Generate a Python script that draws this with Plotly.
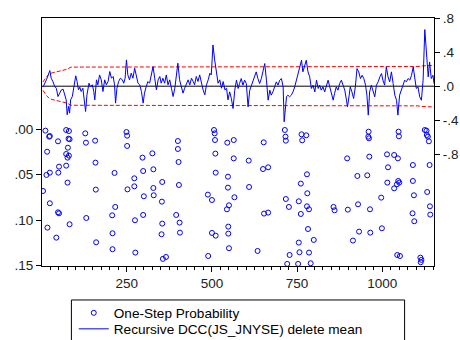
import plotly.graph_objects as go

# ---- Recursive residual series (obs index, value) ----
line_obs = [
    4, 14, 24, 28, 33, 38, 43, 48, 53, 58,
    63, 68, 72, 75, 79, 82, 85, 90, 94, 100,
    104, 108, 112, 116, 121, 126, 129, 133, 139, 143,
    149, 153, 156, 161, 165, 170, 175, 180, 185, 190,
    195, 200, 205, 210, 214, 217, 221, 226, 231, 237,
    241, 245, 249, 253, 258, 263, 268, 273, 278, 283,
    288, 293, 298, 302, 307, 312, 317, 322, 327, 332,
    337, 342, 347, 351, 356, 361, 366, 371, 376, 381,
    386, 391, 396, 400, 405, 410, 415, 420, 425, 430,
    435, 440, 445, 449, 454, 459, 464, 469, 474, 479,
    484, 489, 494, 498, 503, 508, 513, 518, 523, 528,
    533, 538, 543, 547,
    552, 557, 562, 567, 572, 577, 581, 586, 591, 596,
    601, 606, 611, 616, 621, 626, 630, 635, 640, 645,
    650, 655, 660, 665, 670, 674, 679, 684, 689, 694,
    699, 704, 709, 712, 716, 719, 723, 728, 733, 738,
    743, 748, 753, 758, 763, 767, 772, 777, 782, 787,
    792, 797, 802, 807, 812, 816, 821, 826, 831, 836,
    841, 846, 851, 856, 860, 865, 870, 875, 880, 885,
    890, 895, 898, 903, 906, 911, 916, 921, 926, 931,
    936, 941, 946, 951, 955, 959, 963, 968, 973, 978,
    983, 988, 993, 998, 1002, 1007, 1012, 1017, 1022, 1027,
    1032, 1037, 1042, 1046, 1051, 1056, 1061, 1066, 1071, 1076,
    1081, 1086, 1091, 1095, 1100, 1105, 1110, 1115, 1120, 1125,
    1130, 1135, 1139, 1144, 1149, 1152,
]
line_vals = [
    -0.01, 0.075, 0.184, 0.094, 0.055, 0.0, -0.024, -0.122, -0.082, -0.043,
    -0.035, -0.122, -0.161, -0.337, -0.239, -0.318, -0.161, -0.122, -0.024, 0.122,
    0.055, -0.043, -0.012, -0.063, -0.024, -0.161, -0.298, -0.102, 0.035, -0.004,
    0.016, -0.063, -0.161, 0.075, 0.016, 0.133, 0.075, -0.063, 0.075, 0.016,
    0.055, 0.173, 0.094, 0.114, 0.016, -0.2, -0.024, 0.055, 0.094, 0.075,
    0.035, 0.094, 0.31, 0.133, 0.075, 0.153, 0.094, 0.212, 0.114, 0.035,
    0.016, -0.063, -0.2, -0.082, -0.004, 0.055, 0.035, 0.133, 0.231, 0.094,
    -0.043, 0.075, 0.114, 0.035, 0.094, 0.035, 0.133, 0.016, 0.075, -0.024,
    -0.122, -0.024, 0.114, 0.271, 0.075, -0.024, -0.082, -0.024, 0.016, 0.075,
    0.016, 0.094, 0.055, 0.016, 0.114, 0.055, 0.133, 0.035, -0.043, -0.102,
    0.016, 0.075, 0.153, 0.133, 0.486, 0.31, 0.173, 0.035, 0.075, -0.024,
    0.055, -0.043, -0.024, -0.161,
    -0.067, -0.145, -0.263, -0.047, 0.071, -0.027, 0.031, 0.09, 0.012, 0.071,
    0.031, -0.243, -0.047, 0.012, 0.051, 0.129, 0.169, 0.09, 0.031, 0.09,
    0.188, 0.267, 0.071, -0.165, -0.047, -0.106, -0.067, -0.008, 0.051, 0.012,
    0.071, 0.09, -0.008, -0.42, -0.204, -0.125, -0.106, -0.125, -0.106, -0.067,
    -0.008, 0.071, 0.149, 0.227, 0.306, 0.169, 0.227, 0.306, 0.169, 0.11,
    -0.027, 0.012, -0.067, 0.071, -0.027, 0.012, -0.047, -0.008, -0.067, 0.012,
    0.071, -0.008, -0.086, -0.165, -0.086, -0.008, -0.047, 0.031, 0.071, 0.012,
    -0.047, -0.165, -0.243, -0.106, -0.008, -0.067, -0.145, -0.008, 0.208, 0.169,
    0.09, 0.129, 0.09, 0.012, -0.106, -0.341, -0.067, 0.012, -0.067, -0.125,
    0.012, 0.051, 0.11, 0.149, 0.071, 0.012, 0.227, 0.11, 0.051, 0.169,
    0.031, -0.106, -0.165, -0.341, -0.106, -0.047, 0.012, 0.071, 0.051, 0.09,
    0.071, 0.129, 0.227, 0.11, -0.027, -0.008, -0.125, -0.165, 0.071, 0.667,
    0.424, 0.11, 0.286, 0.09, 0.129, 0.031,
]

# ---- +/- 2 S.E. band ----
band_obs = [4, 14, 24, 48, 75, 86, 300, 600, 900, 1105, 1120, 1152]
band_half = [0.05, 0.11, 0.15, 0.17, 0.2, 0.225, 0.226, 0.228, 0.228, 0.232, 0.24, 0.245]

# ---- One-step probabilities (< .15) ----
prob_obs = [
    11, 22, 24, 16, 14, 24, 4, 24, 17, 43,
    48, 51, 49, 48, 51, 72, 80, 79, 82, 77,
    72, 80, 76, 72, 76, 82, 128, 130, 157, 158,
    159, 131, 160, 214, 216, 207, 208, 208, 249, 251,
    251, 252, 272, 272, 274, 275, 296, 298, 300, 298,
    325, 328, 328, 329, 354, 353, 354, 352, 356, 365,
    400, 400, 402, 403, 395, 405, 406, 488, 500, 489,
    506, 508, 509, 510, 511, 500, 511, 545, 547, 547,
    544, 550, 548, 548, 550,
    564, 564, 566, 652, 650, 665, 608, 609, 653, 665,
    634, 714, 716, 717, 763, 777, 765, 717, 726, 755,
    761, 779, 761, 780, 779, 785, 782, 799, 755, 757,
    728, 721, 753, 785, 790, 857, 860, 897, 899, 914,
    927, 929, 932, 956, 960, 959, 961, 962, 964, 965,
    997, 999, 1014, 1017, 1015, 1035, 1046, 1035, 1043, 1047,
    1050, 1048, 1049, 1044, 1052, 1090, 1090, 1093, 1089, 1094,
    1125, 1130, 1131, 1134, 1137, 1139, 1132, 1140, 1141, 1112,
    1115, 1113,
]
prob_vals = [
    0.0018, 0.0084, 0.0077, 0.0249, 0.0504, 0.0479, 0.068, 0.0815, 0.1082, 0.1192,
    0.0135, 0.0413, 0.0479, 0.0914, 0.0925, 0.0011, 0.0022, 0.0106, 0.0113, 0.0205,
    0.0274, 0.0292, 0.0314, 0.0402, 0.0588, 0.1045, 0.0048, 0.015, 0.0128, 0.0369,
    0.0665, 0.0976, 0.1243, 0.0482, 0.0855, 0.0947, 0.1144, 0.1319, 0.0033, 0.0073,
    0.0186, 0.0662, 0.0541, 0.0629, 0.1001, 0.1356, 0.0314, 0.0461, 0.0738, 0.0943,
    0.0267, 0.0442, 0.0647, 0.0727, 0.0581, 0.0797, 0.1038, 0.1155, 0.1425, 0.1404,
    0.0132, 0.0219, 0.0362, 0.0614, 0.0943, 0.1027, 0.1137, 0.072, 0.0779, 0.1393,
    0.0011, 0.0048, 0.0121, 0.027, 0.0479, 0.114, 0.117, 0.015, 0.0523, 0.0643,
    0.0881, 0.0837, 0.1071, 0.1148, 0.1308,
    0.0121, 0.0322, 0.0749, 0.0146, 0.0439, 0.042, 0.0347, 0.0636, 0.0928, 0.0917,
    0.1338, 0.0011, 0.0084, 0.0128, 0.0058, 0.0069, 0.0124, 0.0768, 0.0855, 0.0793,
    0.0932, 0.0497, 0.0599, 0.0705, 0.0848, 0.0881, 0.1097, 0.1217, 0.1246, 0.1352,
    0.1382, 0.148, 0.148, 0.1356, 0.1473, 0.0855, 0.0892, 0.0322, 0.0885, 0.1224,
    0.0515, 0.0826, 0.1126, 0.0508, 0.0029, 0.0084, 0.0102, 0.0303, 0.0881, 0.1137,
    0.0753, 0.1089, 0.0278, 0.042, 0.0588, 0.0285, 0.0322, 0.0651, 0.0607, 0.057,
    0.0588, 0.0029, 0.008, 0.1382, 0.1393, 0.0395, 0.057, 0.0727, 0.0925, 0.1012,
    0.0011, 0.0018, 0.0066, 0.0084, 0.0135, 0.0395, 0.0691, 0.0848, 0.0939, 0.1411,
    0.1436, 0.1462,
]

left_ticks = [0.0, 0.05, 0.10, 0.15]
left_labels = [".00", ".05", ".10", ".15"]
right_ticks = [-0.8, -0.4, 0.0, 0.4, 0.8]
right_labels = ["-.8", "-.4", ".0", ".4", ".8"]

name_prob = "One-Step Probability"
name_line = "Recursive DCC(JS_JNYSE) delete mean"

FONT = "Liberation Sans, Arial, sans-serif"
BLUE = "#0000FF"
RED = "#FF0000"

fig = go.Figure()

fig.add_trace(go.Scatter(
    x=prob_obs, y=prob_vals, mode="markers", name=name_prob,
    marker=dict(symbol="circle-open", size=5, color=BLUE, line=dict(width=1, color=BLUE)),
    yaxis="y", legend="legend",
))
fig.add_trace(go.Scatter(
    x=band_obs, y=band_half, mode="lines", showlegend=False,
    line=dict(color=RED, width=1, dash="4px,2px"), yaxis="y2",
))
fig.add_trace(go.Scatter(
    x=band_obs, y=[-v for v in band_half], mode="lines", showlegend=False,
    line=dict(color=RED, width=1, dash="4px,2px"), yaxis="y2",
))
fig.add_trace(go.Scatter(
    x=line_obs, y=line_vals, mode="lines", name=name_line,
    line=dict(color=BLUE, width=1), yaxis="y2", legend="legend2",
))

axis_common = dict(
    showgrid=False, zeroline=False, showline=True, linecolor="black", linewidth=1,
    ticks="outside", ticklen=5, tickcolor="black", tickwidth=1,
    tickfont=dict(family=FONT, size=13.5, color="#222"),
)

legend_common = dict(
    xanchor="left", yanchor="middle",
    bgcolor="rgba(0,0,0,0)", borderwidth=0,
    font=dict(family=FONT, size=13.6, color="black"),
    itemwidth=30, tracegroupgap=0,
)

fig.update_layout(
    width=460, height=340, autosize=False,
    margin=dict(l=42, r=26, t=18, b=74, pad=0, autoexpand=False),
    paper_bgcolor="white", plot_bgcolor="white",
    font=dict(family=FONT, size=13, color="black"),
    xaxis=dict(
        range=[1, 1152], tickmode="linear", tick0=0, dtick=250, mirror=True,
        minor=dict(tickmode="linear", tick0=0, dtick=25, ticks="outside", ticklen=3,
                   tickcolor="black", showgrid=False),
        **axis_common,
    ),
    yaxis=dict(
        range=[0.1503, -0.1218], tickmode="array", tickvals=left_ticks,
        ticktext=left_labels, side="left", **axis_common,
    ),
    yaxis2=dict(
        range=[-2.12, 0.804], tickmode="array", tickvals=right_ticks,
        ticktext=right_labels, side="right", overlaying="y", **axis_common,
    ),
    showlegend=True,
    legend=dict(x=0.081, y=-0.1895, **legend_common),
    legend2=dict(x=0.081, y=-0.254, **legend_common),
    shapes=[
        dict(type="line", xref="paper", x0=0, x1=1, yref="y2", y0=0, y1=0,
             line=dict(color="black", width=1), layer="below"),
        dict(type="rect", xref="paper", yref="paper", x0=0.075, x1=0.925,
             y0=-0.137, y1=-0.40, line=dict(color="black", width=1)),
    ],
)

fig.write_html(
    "out.html",
    config={"displayModeBar": False},
    post_script="document.body.style.margin='0px';",
)
